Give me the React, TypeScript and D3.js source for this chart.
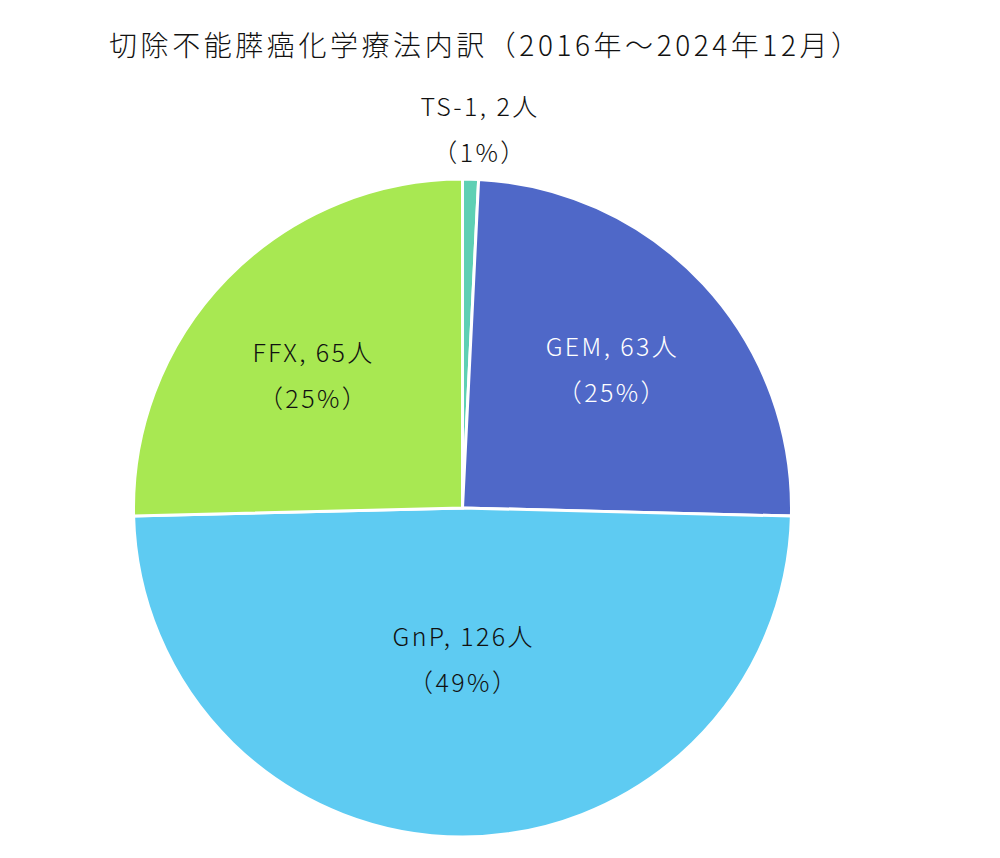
import React from "react";
import * as d3 from "d3";

const title = "切除不能膵癌化学療法内訳（2016年～2024年12月）";
const categories = ["TS-1", "GEM", "GnP", "FFX"];
const values = [2, 63, 126, 65];
const percents = ["1%", "25%", "49%", "25%"];
const colors = ["#5ed0b4", "#4f68c8", "#5ecbf2", "#a8e852"];
const textColors = ["#111", "#fff", "#111", "#111"];
const labelRadius = [378, 203, 152, 200];
const labelShiftX = [7, 0, 0, -7];
const labelShiftY = [0, 0, 0, 8];

const W = 1000;
const H = 858;
const cx = 462.5;
const cy = 508;
const R = 329;

export default function App() {
  const data = categories.map((c, i) => ({ c, v: values[i], i }));
  const pie = d3.pie<any>().value((d) => d.v).sort(null);
  const arcs = pie(data);
  const arc = d3.arc<any>().innerRadius(0).outerRadius(R);
  const font = "'Noto Sans CJK JP', 'Noto Sans', sans-serif";
  return (
    <svg width={W} height={H} style={{ position: "absolute", left: 0, top: 0 }}>
      <rect width={W} height={H} fill="#fff" />
      <text x={109} y={56} fontSize={28} fontWeight={300} fontFamily={font} fill="#111" textLength={750} lengthAdjust="spacing">
        {title}
      </text>
      <g transform={`translate(${cx},${cy})`}>
        {arcs.map((a, i) => (
          <path key={i} d={arc(a) || ""} fill={colors[i]} stroke="#fff" strokeWidth={3} />
        ))}
        {arcs.map((a, i) => {
          const mid = (a.startAngle + a.endAngle) / 2;
          const r = labelRadius[i];
          const x = r * Math.sin(mid) + labelShiftX[i] + 1.2;
          const y = -r * Math.cos(mid) + labelShiftY[i];
          return (
            <text key={"l" + i} fontFamily={font} fontSize={25} fontWeight={300} letterSpacing={2.4} fill={textColors[i]} textAnchor="middle">
              <tspan x={x} y={y - 14}>{`${categories[i]}, ${values[i]}人`}</tspan>
              <tspan x={x} y={y + 32}>{`（${percents[i]}）`}</tspan>
            </text>
          );
        })}
      </g>
    </svg>
  );
}
